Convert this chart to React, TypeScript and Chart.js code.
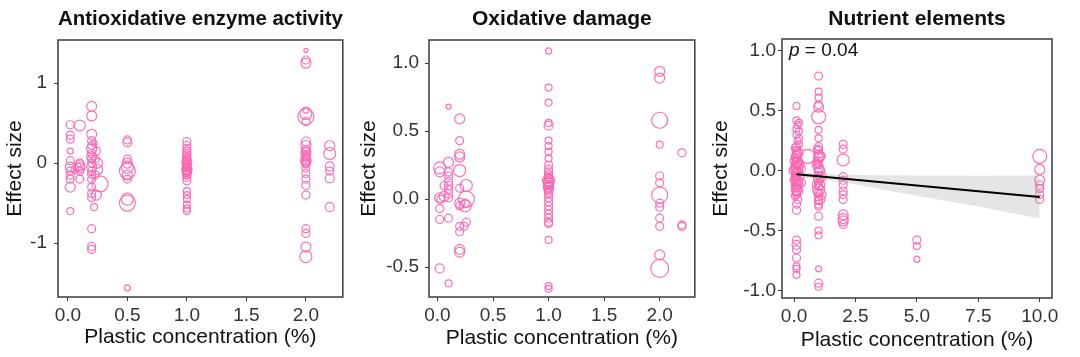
import React, { useEffect, useRef } from "react";
import { Chart, registerables } from "chart.js";

Chart.register(...registerables);

const FONT = "'Liberation Sans', Arial, Helvetica, sans-serif";
const PINK = "rgba(255,100,178,0.92)";

// ---------- Panel 1: Antioxidative enzyme activity ----------
const antiTitle = "Antioxidative enzyme activity";
const antiX = [
  0.02, 0.02, 0.02, 0.02, 0.02, 0.02, 0.02, 0.02, 0.02, 0.02, 0.02,
  0.1, 0.1, 0.1, 0.1, 0.1, 0.1, 0.08, 0.06,
  0.2, 0.2, 0.2, 0.2, 0.2, 0.2, 0.2, 0.2, 0.2, 0.2, 0.2, 0.2, 0.2, 0.2, 0.2, 0.2, 0.2, 0.2, 0.2, 0.2,
  0.22, 0.24, 0.23, 0.25, 0.25, 0.23, 0.22, 0.27, 0.24,
  0.5, 0.5, 0.5, 0.5, 0.5, 0.5, 0.5, 0.5, 0.5, 0.5, 0.5,
  1, 1, 1, 1, 1, 1, 1, 1, 1, 1, 1, 1, 1, 1, 1, 1, 1, 1, 1, 1, 1, 1,
  1, 1, 1, 1, 1, 1, 1, 1,
  2, 2, 2, 2, 2, 2, 2, 2, 2, 2, 2, 2, 2, 2, 2, 2, 2, 2, 2, 2, 2, 2, 2, 2,
  2, 2, 2, 2,
  2.2, 2.2, 2.2, 2.2, 2.2, 2.2,
];
const antiY = [
  0.48, 0.35, 0.3, 0.15, 0.03, -0.05, -0.1, -0.15, -0.2, -0.3, -0.6,
  0.47, 0.0, -0.03, -0.06, -0.1, -0.2, -0.05, -0.08,
  0.71, 0.59, 0.36, 0.28, 0.22, 0.18, 0.12, 0.08, 0.05, 0.0, -0.05, -0.1, -0.14, -0.2, -0.3, -0.38, -0.43, -0.82, -1.04, -1.08,
  0.25, 0.15, 0.05, 0.0, -0.08, -0.15, -0.55, -0.26, -0.4,
  0.29, 0.26, 0.05, 0.0, -0.05, -0.1, -0.15, -0.2, -0.45, -0.5, -1.56,
  0.27, 0.22, 0.18, 0.15, 0.1, 0.07, 0.03, 0.0, -0.03, -0.06, -0.08, -0.1, -0.12, -0.15, -0.18, -0.22, -0.35, -0.4, -0.45, -0.52, -0.57, -0.6,
  0.12, 0.05, 0.01, -0.02, -0.05, -0.09, -0.11, -0.14,
  1.41, 1.29, 1.25, 0.66, 0.62, 0.58, 0.52, 0.27, 0.22, 0.17, 0.13, 0.1, 0.06, 0.02, -0.01, -0.06, -0.13, -0.2, -0.28, -0.4, -0.82, -0.88, -1.05, -1.17,
  0.15, 0.08, 0.0, 0.04,
  0.22, 0.12, -0.04, -0.1, -0.19, -0.55,
];
const antiW = [
  4, 4, 4, 3, 4, 5, 4, 4, 4, 5, 3.5,
  5.5, 4, 5, 5, 4, 4, 4, 4,
  5, 5, 5, 4, 4, 5, 4, 5, 4, 4, 5, 4, 4, 4, 4, 4, 4, 4, 4, 4,
  3, 4, 4, 5, 5, 4, 3.5, 8, 5,
  4, 4.5, 4, 5, 6, 8, 5, 4, 6, 8, 3,
  4, 4, 4, 4, 4, 4, 4, 4, 4, 4, 5, 4, 4, 4, 4, 4, 3.5, 3.5, 3.5, 3.5, 3.5, 3.5,
  4, 4, 5, 4, 4, 5, 4, 4,
  2, 4, 5, 3, 6, 8, 4, 4.5, 5, 4, 5, 4, 4, 5, 4, 4, 4, 4, 4, 4, 4, 4, 5, 6,
  4, 4, 4, 5,
  5, 6, 4.5, 4, 4.5, 4.5,
];
const antiXTicks = [0, 0.5, 1, 1.5, 2];
const antiYTicks = [-1, 0, 1];

// ---------- Panel 2: Oxidative damage ----------
const oxTitle = "Oxidative damage";
const oxX = [
  0.02, 0.02, 0.02, 0.03, 0.02, 0.02, 0.02,
  0.1, 0.1, 0.1, 0.1, 0.1, 0.1, 0.1, 0.1, 0.1, 0.1, 0.1, 0.06, 0.06,
  0.2, 0.2, 0.2, 0.2, 0.2, 0.2, 0.2, 0.2, 0.2, 0.2, 0.2, 0.2,
  0.26, 0.26, 0.25, 0.25, 0.26, 0.24,
  1, 1, 1, 1, 1, 1, 1, 1, 1, 1, 1, 1, 1, 1, 1, 1, 1, 1, 1, 1, 1, 1, 1, 1, 1, 1, 1, 1, 1,
  1, 1, 1, 1, 1, 1, 1, 1,
  2, 2, 2, 2, 2, 2, 2, 2, 2, 2, 2, 2, 2,
  2.2, 2.2, 2.2,
];
const oxY = [
  0.23, 0.2, 0.01, 0.0, -0.07, -0.15, -0.51,
  0.68, 0.27, 0.2, 0.17, 0.13, 0.1, 0.07, 0.04, 0.01, -0.14, -0.62, 0.1, 0.02,
  0.59, 0.43, 0.33, 0.31, 0.21, 0.08, -0.03, -0.05, -0.2, -0.24, -0.37, -0.39,
  0.1, 0.0, -0.05, -0.03, -0.17, -0.2,
  1.09, 0.82, 0.71, 0.56, 0.54, 0.43, 0.39, 0.35, 0.3, 0.25, 0.22, 0.18, 0.15, 0.13, 0.11, 0.09, 0.07, 0.04, 0.01, -0.02, -0.05, -0.08, -0.11, -0.14, -0.17, -0.18, -0.3, -0.64, -0.66,
  0.2, 0.16, 0.12, 0.1, 0.08, 0.05, 0.14, 0.12,
  0.94, 0.89, 0.58, 0.4, 0.17, 0.12, 0.03, -0.03, -0.06, -0.14, -0.2, -0.41, -0.51,
  0.34, -0.19, -0.2,
];
const oxW = [
  6, 5, 5, 4, 4, 4, 4.5,
  2.5, 5, 4, 4, 4, 4, 4, 4, 4, 4, 3.5, 4, 5,
  5, 4, 5, 5, 6, 4, 5, 4, 4, 4, 5, 5,
  6, 8, 6, 4, 4, 4,
  3, 3.5, 3.5, 3.5, 4.5, 3.5, 3.5, 3.5, 3.5, 4, 4, 4, 4, 5, 4, 5, 4, 4, 4, 4, 4, 4, 4, 4, 4, 4, 3.5, 3.5, 3.5,
  4, 4, 5, 4, 5, 4, 6, 5,
  5, 5, 8, 3.5, 4, 4, 8, 4, 4, 4, 4, 5, 9,
  4, 4, 4,
];
const oxXTicks = [0, 0.5, 1, 1.5, 2];
const oxYTicks = [-0.5, 0, 0.5, 1];

// ---------- Panel 3: Nutrient elements ----------
const nutTitle = "Nutrient elements";
const nutX = [
  0.1, 0.1, 0.2, 0.1, 0.1, 0.2,
  0.1, 0.1, 0.1, 0.1, 0.1, 0.1, 0.1, 0.1, 0.1, 0.1,
  0.1, 0.1, 0.1, 0.1, 0.1, 0.1, 0.1, 0.1, 0.1, 0.1,
  0.2, 0.2, 0.2, 0.2, 0.0, 0.0, 0.0, 0.3, 0.3,
  0.1, 0.1, 0.1, 0.1, 0.1, 0.1, 0.1, 0.1, 0.1,
  0.55,
  0.05, 0.15, 0.05, 0.15, 0.05, 0.15, 0.05, 0.15, 0.05, 0.15, 0.05, 0.15,
  0.15, 0.2, 0.15, 0.2,
  1, 1, 1, 1, 1, 1, 1, 1,
  1, 1, 1, 1, 1, 1, 1, 1, 1, 1, 1, 1, 1, 1, 1, 1,
  1.1, 0.9, 1.1, 0.9, 1.1,
  1, 1, 1, 1, 1, 1, 1,
  0.95, 1.05, 0.95, 1.05, 0.95, 1.05, 0.95, 1.05, 1,
  2, 2, 2, 2, 2, 2, 2, 2, 2, 2, 2, 2, 2,
  5, 5, 5,
  10, 10, 10, 10, 10, 10, 10,
];
const nutY = [
  0.54, 0.42, 0.4, 0.35, 0.3, 0.27,
  0.2, 0.17, 0.14, 0.12, 0.1, 0.08, 0.06, 0.04, 0.02, 0.0,
  -0.02, -0.04, -0.06, -0.08, -0.1, -0.12, -0.14, -0.16, -0.18, -0.2,
  0.05, -0.05, 0.15, -0.12, 0.0, 0.08, -0.08, 0.02, -0.1,
  -0.28, -0.33, -0.58, -0.62, -0.66, -0.73, -0.8, -0.82, -0.87,
  0.12,
  0.19, 0.15, 0.11, 0.07, 0.03, -0.01, -0.05, -0.09, -0.13, -0.17, -0.21, -0.24,
  0.38, 0.33, 0.25, 0.22,
  0.79, 0.66, 0.61, 0.55, 0.53, 0.45, 0.34, 0.27,
  0.2, 0.17, 0.14, 0.11, 0.08, 0.05, 0.02, -0.01, -0.04, -0.07, -0.1, -0.13, -0.16, -0.19, -0.22, -0.25,
  -0.05, 0.05, 0.12, -0.12, -0.2,
  -0.3, -0.38, -0.5, -0.54, -0.82, -0.94, -0.97,
  0.18, 0.12, 0.06, 0.0, -0.06, -0.12, -0.18, -0.24, -0.28,
  0.22, 0.18, 0.09, -0.05, -0.08, -0.12, -0.17, -0.2, -0.24, -0.37, -0.4, -0.42, -0.45,
  -0.58, -0.63, -0.74,
  0.12, 0.01, -0.08, -0.12, -0.15, -0.2, -0.24,
];
const nutW = [
  3.5, 3.5, 3.5, 3.5, 3.5, 3.5,
  4, 4, 4, 5, 4, 4, 5, 4, 6, 4,
  5, 4, 4, 5, 4, 4, 4, 5, 4, 4,
  5, 5, 4, 4, 5, 4, 4, 4, 4,
  4, 4, 4, 4.5, 4, 4, 3.5, 3.5, 3.5,
  7,
  4, 5, 4, 5, 4, 5, 4, 5, 4, 5, 4, 4,
  3.5, 3.5, 3.5, 3.5,
  4, 3.5, 3.5, 4, 5, 7, 3.5, 3.5,
  4, 4, 4, 5, 4, 4, 5, 4, 4, 5, 4, 4, 6, 4, 4, 4,
  5, 4, 4, 4, 5,
  3.5, 4, 3.5, 3.5, 3, 4, 3.5,
  4, 5, 4, 5, 4, 5, 4, 5, 4,
  4, 4, 6, 4, 4, 4, 4, 4, 4, 5, 5, 5, 4,
  4, 3.5, 3,
  7, 5, 5, 4, 4, 4, 4,
];
const nutXTicks = [0, 2.5, 5, 7.5, 10];
const nutYTicks = [-1, -0.5, 0, 0.5, 1];
const nutPLabel = "= 0.04";

// Regression fit and 95% confidence band (panel 3)
const fitX = [0.1, 10];
const fitY = [-0.03, -0.22];
const bandX = [0.1, 1, 2.5, 5, 7.5, 10];
const bandUpper = [-0.005, -0.025, -0.036, -0.04, -0.042, -0.04];
const bandLower = [-0.055, -0.069, -0.116, -0.21, -0.3, -0.4];

type Area = { left: number; right: number; top: number; bottom: number };

type PanelProps = {
  canvasLeft: number;
  canvasWidth: number;
  title: string;
  xs: number[];
  ys: number[];
  ws: number[];
  xMin: number;
  xMax: number;
  yMin: number;
  yMax: number;
  xTicks: number[];
  yTicks: number[];
  yDigits: number;
  area: Area;
  yLabelPad: number;
  yTitlePad: number;
  xTitlePad: number;
  withFit?: boolean;
};

const H = 357;

function Panel(p: PanelProps) {
  const ref = useRef<HTMLCanvasElement>(null);
  useEffect(() => {
    const points = p.xs.map((x, i) => ({ x, y: p.ys[i], r: p.ws[i] }));
    const datasets: any[] = [
      {
        type: "bubble",
        data: points,
        backgroundColor: "rgba(0,0,0,0)",
        borderColor: PINK,
        borderWidth: 1.2,
        hoverBorderWidth: 1.2,
        order: 3,
      },
    ];
    if (p.withFit) {
      datasets.push(
        {
          type: "line",
          data: bandX.map((x, i) => ({ x, y: bandLower[i] })),
          borderWidth: 0,
          borderColor: "rgba(0,0,0,0)",
          pointRadius: 0,
          fill: false,
          order: 2,
        },
        {
          type: "line",
          data: bandX.map((x, i) => ({ x, y: bandUpper[i] })),
          borderWidth: 0,
          borderColor: "rgba(0,0,0,0)",
          backgroundColor: "rgba(160,160,160,0.27)",
          pointRadius: 0,
          fill: "-1",
          order: 2,
        },
        {
          type: "line",
          data: fitX.map((x, i) => ({ x, y: fitY[i] })),
          borderWidth: 2,
          borderColor: "#000000",
          pointRadius: 0,
          fill: false,
          order: 1,
        }
      );
    }

    const boxPlugin = {
      id: "panelBox",
      afterDraw(chart: any) {
        const { ctx, chartArea } = chart;
        ctx.save();
        ctx.strokeStyle = "#3a3a3a";
        ctx.lineWidth = 1.5;
        ctx.strokeRect(
          chartArea.left,
          chartArea.top,
          chartArea.right - chartArea.left,
          chartArea.bottom - chartArea.top
        );
        if (p.withFit) {
          const x0 = chartArea.left + 7;
          const y0 = chartArea.top + 12;
          ctx.fillStyle = "#111";
          ctx.textBaseline = "middle";
          ctx.textAlign = "left";
          ctx.font = `italic 19px ${FONT}`;
          ctx.fillText("p", x0, y0);
          const w = ctx.measureText("p ").width;
          ctx.font = `19px ${FONT}`;
          ctx.fillText(nutPLabel, x0 + w, y0);
        }
        ctx.restore();
      },
    };

    const tickFont = { family: FONT, size: 19 };
    const titleFont = { family: FONT, size: 21 };
    const rightPad = p.canvasWidth - p.area.right;

    const chart = new Chart(ref.current as HTMLCanvasElement, {
      type: "bubble",
      data: { datasets },
      options: {
        animation: false,
        responsive: false,
        maintainAspectRatio: false,
        events: [],
        layout: { padding: { top: 0, left: 0, right: rightPad, bottom: 0 } },
        plugins: {
          legend: { display: false },
          tooltip: { enabled: false },
          title: {
            display: true,
            text: p.title,
            fullSize: false,
            color: "#111",
            font: { family: FONT, size: 21, weight: "bold" },
            padding: { top: 7, bottom: p.area.top - 7 - 25.2 },
          },
        },
        scales: {
          x: {
            type: "linear",
            min: p.xMin,
            max: p.xMax,
            afterBuildTicks: (s: any) => {
              s.ticks = p.xTicks.map((v) => ({ value: v }));
            },
            afterFit: (s: any) => {
              s.height = H - p.area.bottom;
              s.paddingLeft = 0;
              s.paddingRight = 0;
            },
            ticks: {
              autoSkip: false,
              maxRotation: 0,
              minRotation: 0,
              padding: 3,
              color: "#333",
              font: tickFont,
              callback: (v: any) => Number(v).toFixed(1),
            },
            grid: {
              drawOnChartArea: false,
              drawTicks: true,
              tickLength: 4,
              color: "#3a3a3a",
              lineWidth: 1,
            },
            border: { display: false },
            title: {
              display: true,
              text: "Plastic concentration (%)",
              color: "#111",
              font: titleFont,
              padding: { top: 0, bottom: p.xTitlePad },
            },
          },
          y: {
            type: "linear",
            min: p.yMin,
            max: p.yMax,
            afterBuildTicks: (s: any) => {
              s.ticks = p.yTicks.map((v) => ({ value: v }));
            },
            afterFit: (s: any) => {
              s.width = p.area.left;
              s.paddingTop = 0;
              s.paddingBottom = 0;
            },
            ticks: {
              autoSkip: false,
              padding: p.yLabelPad,
              color: "#333",
              font: tickFont,
              callback: (v: any) => Number(v).toFixed(p.yDigits),
            },
            grid: {
              drawOnChartArea: false,
              drawTicks: true,
              tickLength: 4,
              color: "#3a3a3a",
              lineWidth: 1,
            },
            border: { display: false },
            title: {
              display: true,
              text: "Effect size",
              color: "#111",
              font: titleFont,
              padding: { top: p.yTitlePad, bottom: 0 },
            },
          },
        },
      } as any,
      plugins: [boxPlugin],
    });
    return () => chart.destroy();
  }, []);

  return (
    <canvas
      ref={ref}
      width={p.canvasWidth}
      height={H}
      style={{
        position: "absolute",
        left: p.canvasLeft,
        top: 0,
        width: p.canvasWidth,
        height: H,
      }}
    />
  );
}

export default function App() {
  return (
    <div
      style={{
        position: "absolute",
        left: 0,
        top: 0,
        width: 1080,
        height: H,
        background: "#ffffff",
        overflow: "hidden",
      }}
    >
      <Panel
        canvasLeft={0}
        canvasWidth={352}
        title={antiTitle}
        xs={antiX}
        ys={antiY}
        ws={antiW}
        xMin={-0.083}
        xMax={2.31}
        yMin={-1.675}
        yMax={1.54}
        xTicks={antiXTicks}
        yTicks={antiYTicks}
        yDigits={0}
        area={{ left: 58, right: 345, top: 40, bottom: 297 }}
        yLabelPad={7}
        yTitlePad={3}
        xTitlePad={7}
      />
      <Panel
        canvasLeft={350}
        canvasWidth={355}
        title={oxTitle}
        xs={oxX}
        ys={oxY}
        ws={oxW}
        xMin={-0.076}
        xMax={2.316}
        yMin={-0.72}
        yMax={1.17}
        xTicks={oxXTicks}
        yTicks={oxYTicks}
        yDigits={1}
        area={{ left: 79, right: 349, top: 40, bottom: 297 }}
        yLabelPad={6}
        yTitlePad={7}
        xTitlePad={6}
      />
      <Panel
        canvasLeft={700}
        canvasWidth={380}
        title={nutTitle}
        xs={nutX}
        ys={nutY}
        ws={nutW}
        xMin={-0.49}
        xMax={10.5}
        yMin={-1.064}
        yMax={1.1}
        xTicks={nutXTicks}
        yTicks={nutYTicks}
        yDigits={1}
        area={{ left: 82, right: 352, top: 39, bottom: 298 }}
        yLabelPad={2}
        yTitlePad={9}
        xTitlePad={4}
        withFit
      />
    </div>
  );
}
